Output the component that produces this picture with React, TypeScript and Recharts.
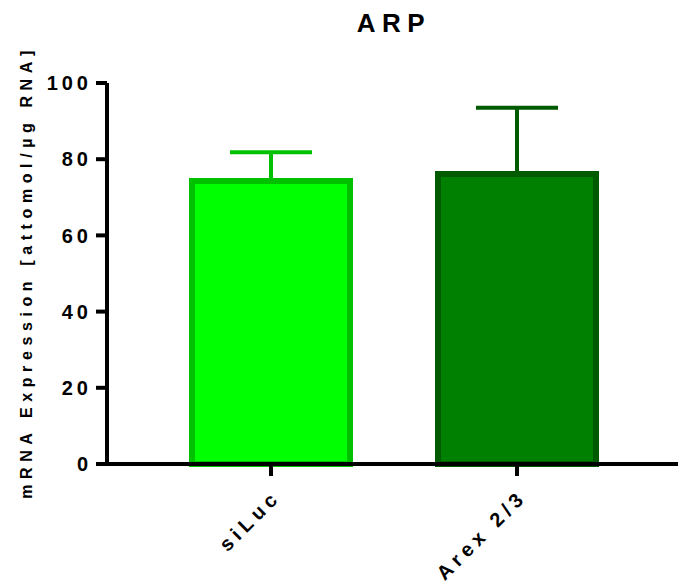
import React from 'react';
import { Bar, BarChart, Cell, ErrorBar, XAxis, YAxis } from 'recharts';

const categories = ['siLuc', 'Arex 2/3'];
const means = [74.3, 76.1];
const upperErrors = [7.5, 17.4];
const yTicks = [0, 20, 40, 60, 80, 100];

const fills = ['#00FF00', '#008000'];
const borders = ['#00C000', '#005A00'];

const FONT = '"Liberation Sans", Arial, Helvetica, sans-serif';

// one error key per bar so each whisker can take its bar's border colour
const data = categories.map((name, i) => ({
	name,
	mean: means[i],
	errLight: i === 0 ? [0, upperErrors[i]] : null,
	errDark: i === 1 ? [0, upperErrors[i]] : null,
}));

function CategoryTick({ x, y, payload }: any) {
	const ax = x + 11;
	const ay = y + 20;
	return (
		<text
			x={ax}
			y={ay}
			transform={`rotate(-45, ${ax}, ${ay})`}
			textAnchor='end'
			fill='#000'
			fontSize={20}
			fontWeight={700}
			letterSpacing={5}
			fontFamily={FONT}
		>
			{payload.value}
		</text>
	);
}

export default function App() {
	return (
		<div style={{ position: 'absolute', left: 0, top: 0, width: 678, height: 583, background: '#fff' }}>
			<BarChart
				width={678}
				height={583}
				data={data}
				margin={{ top: 83, right: 0, bottom: 0, left: 0 }}
				style={{ fontFamily: FONT }}
			>
				<text
					x={394}
					y={32}
					textAnchor='middle'
					fontSize={26}
					fontWeight={700}
					letterSpacing={6.5}
					fill='#000'
					fontFamily={FONT}
				>
					ARP
				</text>
				<text
					x={32}
					y={272}
					transform='rotate(-90, 32, 272)'
					textAnchor='middle'
					fontSize={16}
					fontWeight={700}
					letterSpacing={5.6}
					fill='#000'
					fontFamily={FONT}
				>
					mRNA Expression [attomol/µg RNA]
				</text>
				<XAxis
					dataKey='name'
					height={119}
					padding={{ left: 41, right: 38 }}
					tickSize={12}
					axisLine={{ stroke: '#000', strokeWidth: 4 }}
					tickLine={{ stroke: '#000', strokeWidth: 4 }}
					tick={<CategoryTick />}
					interval={0}
				/>
				<YAxis
					type='number'
					domain={[0, 100]}
					ticks={yTicks}
					interval={0}
					width={107}
					tickSize={11}
					tickMargin={4}
					axisLine={{ stroke: '#000', strokeWidth: 4 }}
					tickLine={{ stroke: '#000', strokeWidth: 4 }}
					tick={{ fill: '#000', fontSize: 20, fontWeight: 700, letterSpacing: 4, fontFamily: FONT }}
				/>
				<Bar dataKey='mean' barSize={158} isAnimationActive={false}>
					{data.map((d, i) => (
						<Cell key={d.name} fill={fills[i]} stroke={borders[i]} strokeWidth={6} />
					))}
					<ErrorBar dataKey='errLight' width={41} stroke={borders[0]} strokeWidth={4} isAnimationActive={false} />
					<ErrorBar dataKey='errDark' width={41} stroke={borders[1]} strokeWidth={4} isAnimationActive={false} />
				</Bar>
			</BarChart>
		</div>
	);
}
